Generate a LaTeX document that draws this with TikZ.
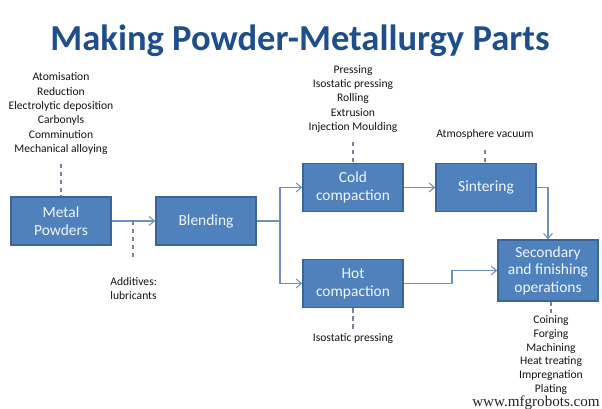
\documentclass[tikz,border=0pt]{standalone}
\usepackage{fontspec}
\setmainfont{Carlito}
\newfontfamily\wmfont{Liberation Serif}
\usepackage{tikz}
\usetikzlibrary{arrows.meta}

\definecolor{boxfill}{HTML}{4F81BD}
\definecolor{boxline}{HTML}{3A6596}
\definecolor{titleblue}{HTML}{1F4E8C}
\definecolor{flowline}{HTML}{6E90C0}
\definecolor{dashline}{HTML}{76849A}

\tikzset{
  stage/.style={draw=boxline, line width=0.8pt, fill=boxfill, text=white!92!boxfill,
    minimum width=57pt, minimum height=27.5pt, inner sep=1pt, align=center,
    font=\fontsize{8.8}{10}\selectfont},
  note/.style={align=center, text=black!92, inner sep=0pt,
    font=\fontsize{6.6}{8.2}\selectfont},
  flow/.style={draw=flowline, line width=0.6pt, -{Straight Barb[length=3pt,width=5pt]}},
  tap/.style={draw=dashline, line width=0.6pt, dash pattern=on 2.5pt off 2pt}
}

\begin{document}
\begin{tikzpicture}[x=0.02cm, y=-0.02cm]
      \useasboundingbox[fill=white] (0,0) rectangle (602,409);
      \node[text=titleblue, font=\fontsize{20.8}{24}\selectfont\bfseries, anchor=base] (title) at (300,51) {Making Powder-Metallurgy Parts};
      \node[stage] (metal)  at (61,221)  {Metal\\Powders};
      \node[stage] (blend)  at (206,221) {Blending};
      \node[stage] (cold)   at (353,187.5) {Cold\\compaction};
      \node[stage] (sinter) at (486,187.5) {Sintering};
      \node[stage] (hot)    at (353,283.5) {Hot\\compaction};
      \node[stage, minimum height=34.5pt] (second) at (548,270.5) {Secondary\\and finishing\\operations};
      \begin{scope}[every node/.style={note}]
        \node[anchor=south] (powsrc) at (61,155) {Atomisation\\Reduction\\Electrolytic deposition\\Carbonyls\\Comminution\\Mechanical alloying};
        \node[anchor=north west, align=left] (addit) at (110,277) {Additives:\\lubricants};
        \node[anchor=south] (coldsrc) at (353,133) {Pressing\\Isostatic pressing\\Rolling\\Extrusion\\Injection Moulding};
        \node (atmo) at (485,134) {Atmosphere vacuum};
        \node (hotsrc) at (353,338) {Isostatic pressing};
        \node[anchor=north, font=\fontsize{6.6}{7.9}\selectfont] (finish) at (551,315) {Coining\\Forging\\Machining\\Heat treating\\Impregnation\\Plating};
      \end{scope}
      \coordinate (split) at (280,221);
      \coordinate (addtap) at (133,221);
      \coordinate (addend) at (133,260);
      \coordinate (hbend) at (452,283.5);
      \draw[flow] (metal) -- (blend);
      \draw[flowline, line width=0.6pt] (blend) -- (split);
      \draw[flow] (split) |- (cold);
      \draw[flow] (split) |- (hot);
      \draw[flow] (cold) -- (sinter);
      \draw[flow] (sinter) -| (second);
      \draw[flow] (hot) -- (hbend) |- (second);
      \draw[tap] ([yshift=-5pt]powsrc.south) -- (metal.north);
      \draw[tap] (addtap) -- (addend);
      \draw[tap] ([yshift=-5pt]coldsrc.south) -- (cold.north);
      \draw[tap] ([yshift=-6pt]atmo.south) -- (atmo.south |- sinter.north);
      \draw[tap] (hot.south) -- ([yshift=2pt]hotsrc.north);
      \draw[tap] (finish.north |- second.south) -- ([yshift=1pt]finish.north);
      \node[font=\wmfont\fontsize{8.6}{10}\selectfont, text=black!85, inner sep=0pt, anchor=base] (mark) at (536,406) {www.mfgrobots.com};
  \end{tikzpicture}
\end{document}
